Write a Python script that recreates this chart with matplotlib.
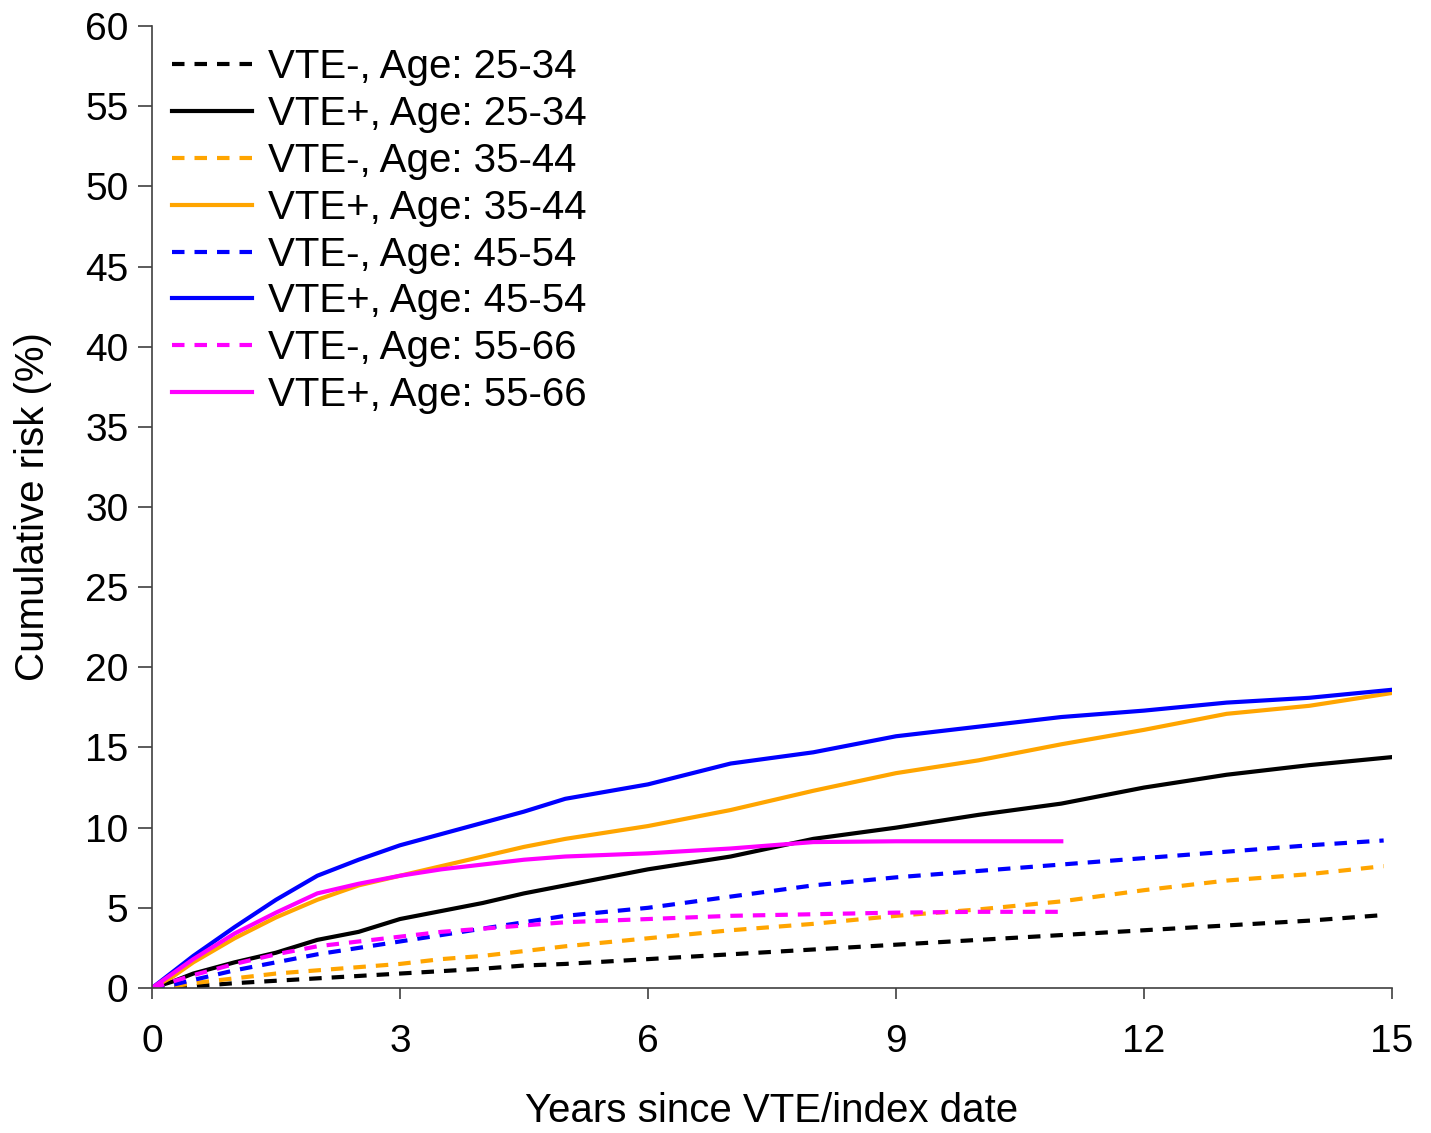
import matplotlib
matplotlib.use("Agg")
import matplotlib.pyplot as plt

plt.rcParams['font.family'] = ['Liberation Sans', 'DejaVu Sans']

# time grid (years)
t = [0, 0.25, 0.5, 1, 1.5, 2, 2.5, 3, 3.5, 4, 4.5, 5, 6, 7, 8, 9, 10, 11, 12, 13, 14, 15]
t_dash = t[:-1] + [14.9]
t_55 = t[:18]  # 55-66 group ends at 11 years

# VTE-, dashed
neg_25_34 = [0, 0.05, 0.1, 0.3, 0.45, 0.6, 0.75, 0.9, 1.05, 1.2, 1.4, 1.5, 1.8, 2.1, 2.4, 2.7, 3.0, 3.3, 3.6, 3.9, 4.2, 4.55]
neg_35_44 = [0, 0.1, 0.3, 0.6, 0.9, 1.1, 1.3, 1.5, 1.8, 2.0, 2.3, 2.6, 3.1, 3.6, 4.0, 4.5, 4.9, 5.4, 6.1, 6.7, 7.1, 7.6]
neg_45_54 = [0, 0.2, 0.5, 1.1, 1.6, 2.1, 2.5, 2.9, 3.3, 3.7, 4.1, 4.5, 5.0, 5.7, 6.4, 6.9, 7.3, 7.7, 8.1, 8.5, 8.9, 9.2]
neg_55_66 = [0, 0.4, 0.8, 1.5, 2.1, 2.6, 2.9, 3.2, 3.5, 3.7, 3.9, 4.1, 4.3, 4.5, 4.6, 4.7, 4.75, 4.75]

# VTE+, solid
pos_25_34 = [0, 0.4, 0.9, 1.6, 2.2, 3.0, 3.5, 4.3, 4.8, 5.3, 5.9, 6.4, 7.4, 8.2, 9.3, 10.0, 10.8, 11.5, 12.5, 13.3, 13.9, 14.4]
pos_35_44 = [0, 0.7, 1.6, 3.1, 4.4, 5.5, 6.4, 7.0, 7.6, 8.2, 8.8, 9.3, 10.1, 11.1, 12.3, 13.4, 14.2, 15.2, 16.1, 17.1, 17.6, 18.4]
pos_45_54 = [0, 1.0, 2.0, 3.8, 5.5, 7.0, 8.0, 8.9, 9.6, 10.3, 11.0, 11.8, 12.7, 14.0, 14.7, 15.7, 16.3, 16.9, 17.3, 17.8, 18.1, 18.6]
pos_55_66 = [0, 0.9, 1.8, 3.4, 4.7, 5.9, 6.5, 7.0, 7.4, 7.7, 8.0, 8.2, 8.4, 8.7, 9.1, 9.15, 9.15, 9.15]

x_ticks = [0, 3, 6, 9, 12, 15]
y_ticks = list(range(0, 61, 5))

fig = plt.figure(figsize=(14.31, 11.33), dpi=100)
ax = fig.add_axes([0.1062, 0.128, 0.8665, 0.849])

lw = 3
dash = (3.0, 2.4)
ax.plot(t_dash, neg_25_34, color='black', lw=lw, dashes=dash, label='VTE-, Age: 25-34')
ax.plot(t, pos_25_34, color='black', lw=lw, label='VTE+, Age: 25-34')
ax.plot(t_dash, neg_35_44, color='#FFA500', lw=lw, dashes=dash, label='VTE-, Age: 35-44')
ax.plot(t, pos_35_44, color='#FFA500', lw=lw, label='VTE+, Age: 35-44')
ax.plot(t_dash, neg_45_54, color='#0000FF', lw=lw, dashes=dash, label='VTE-, Age: 45-54')
ax.plot(t, pos_45_54, color='#0000FF', lw=lw, label='VTE+, Age: 45-54')
ax.plot(t_55, neg_55_66, color='#FF00FF', lw=lw, dashes=dash, label='VTE-, Age: 55-66')
ax.plot(t_55, pos_55_66, color='#FF00FF', lw=lw, label='VTE+, Age: 55-66')

ax.set_xlim(0, 15)
ax.set_ylim(0, 60)
ax.set_xticks(x_ticks)
ax.set_yticks(y_ticks)
for s in ['top', 'right']:
    ax.spines[s].set_visible(False)
for s in ['left', 'bottom']:
    ax.spines[s].set_color('#404040')
    ax.spines[s].set_linewidth(1.2)
ax.tick_params(axis='both', direction='out', width=1.2, color='#404040', labelsize=28)
ax.tick_params(axis='x', length=8, pad=18)
ax.tick_params(axis='y', length=10, pad=7)

ax.set_xlabel('Years since VTE/index date', fontsize=29, labelpad=23)
ax.set_ylabel('Cumulative risk (%)', fontsize=29, labelpad=24)

ax.legend(loc='upper left', bbox_to_anchor=(0.016, 0.977), frameon=False, fontsize=29,
          handlelength=2.0, handletextpad=0.4, labelspacing=0.22, borderaxespad=0, borderpad=0)

fig.savefig('out.png', dpi=100)
